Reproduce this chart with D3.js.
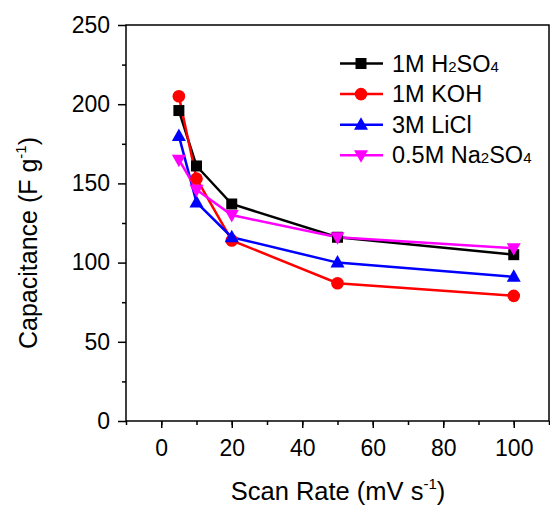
<!DOCTYPE html>
<html>
<head>
<meta charset="utf-8">
<script src="https://cdn.jsdelivr.net/npm/d3@7"></script>
<style>
    body { margin: 0; background: #fff; }
    svg text { font-family: "Liberation Sans", Arial, sans-serif; fill: #000; }
</style>
</head>
<body>
<div id="chart"></div>
<script>
// Scan rates (mV/s) and capacitance per electrolyte
const scanRates = [5, 10, 20, 50, 100];
const h2so4 = [196, 161, 137, 116, 105];
const koh = [205, 153, 114, 87, 79];
const licl = [180, 138, 116, 100, 91];
const na2so4 = [165, 146, 130, 116, 109];

const xTicks = [0, 20, 40, 60, 80, 100];
const yTicks = [0, 50, 100, 150, 200, 250];

const series = [
    { name: ['1M H', '2', 'SO', '4'], values: h2so4, color: '#000000', symbol: 'square' },
    { name: ['1M KOH'], values: koh, color: '#ff0000', symbol: 'circle' },
    { name: ['3M LiCl'], values: licl, color: '#0000ff', symbol: 'up' },
    { name: ['0.5M Na', '2', 'SO', '4'], values: na2so4, color: '#ff00ff', symbol: 'down' }
];

const width = 550, height = 509;
const margin = { left: 126, right: 1, top: 25, bottom: 88 };

const svg = d3.select('#chart')
    .append('svg')
    .attr('width', width)
    .attr('height', height);

const x = d3.scaleLinear().domain([-10, 110]).range([margin.left, width - margin.right]);
const y = d3.scaleLinear().domain([0, 250]).range([height - margin.bottom, margin.top]);

// frame
svg.append('rect')
    .attr('x', x(-10)).attr('y', y(250))
    .attr('width', x(110) - x(-10)).attr('height', y(0) - y(250))
    .style('fill', 'none').style('stroke', '#000').style('stroke-width', 1.5);

// x axis
const xAxis = svg.append('g').attr('transform', `translate(0,${y(0)})`);
xAxis.call(d3.axisBottom(x).tickValues(d3.range(-10, 111, 10)).tickSize(4).tickFormat(''));
xAxis.call(g => g.selectAll('.domain').remove());
const xMajor = svg.append('g').attr('transform', `translate(0,${y(0)})`)
    .call(d3.axisBottom(x).tickValues(xTicks).tickSize(7).tickPadding(12).tickFormat(d3.format('d')));
xMajor.select('.domain').remove();
xMajor.selectAll('text').style('font-size', '23px');

// y axis
const yAxis = svg.append('g').attr('transform', `translate(${x(-10)},0)`);
yAxis.call(d3.axisLeft(y).tickValues(d3.range(25, 250, 50)).tickSize(4).tickFormat(''));
yAxis.select('.domain').remove();
const yMajor = svg.append('g').attr('transform', `translate(${x(-10)},0)`)
    .call(d3.axisLeft(y).tickValues(yTicks).tickSize(8).tickPadding(8).tickFormat(d3.format('d')));
yMajor.select('.domain').remove();
svg.selectAll('.tick line').style('stroke-width', 1.5);
yMajor.selectAll('text').style('font-size', '23px');

// axis titles
const xTitle = svg.append('text')
    .attr('x', 338).attr('y', 500)
    .attr('text-anchor', 'middle')
    .style('font-size', '25.5px');
xTitle.append('tspan').text('Scan Rate (mV s');
xTitle.append('tspan').text('-1').style('font-size', '15px').attr('dy', -11);
xTitle.append('tspan').text(')').attr('dy', 11);

const yTitle = svg.append('text')
    .attr('transform', `translate(37,243) rotate(-90)`)
    .attr('text-anchor', 'middle')
    .style('font-size', '25px');
yTitle.append('tspan').text('Capacitance (F g');
yTitle.append('tspan').text('-1').style('font-size', '15px').attr('dy', -11);
yTitle.append('tspan').text(')').attr('dy', 11);

// marker shapes
function symbolPath(kind) {
    if (kind === 'square') return 'M-5.5,-5.5H5.5V5.5H-5.5Z';
    if (kind === 'circle') return d3.symbol(d3.symbolCircle, 125)();
    if (kind === 'up') return 'M0,-7.5L7,5H-7Z';
    return 'M0,7.5L7,-5H-7Z';
}

const line = d3.line()
    .x((d, i) => x(scanRates[i]))
    .y(d => y(d));

series.forEach(s => {
    svg.append('path')
        .attr('d', line(s.values))
        .style('fill', 'none')
        .style('stroke', s.color)
        .style('stroke-width', 2.5);
});

series.forEach(s => {
    svg.append('g')
        .selectAll('path')
        .data(s.values)
        .enter()
        .append('path')
        .attr('transform', (d, i) => `translate(${x(scanRates[i])},${y(d)})`)
        .attr('d', symbolPath(s.symbol))
        .style('fill', s.color);
});

// legend
const legend = svg.append('g');
series.forEach((s, i) => {
    const ly = 63.5 + i * 30.6;
    legend.append('line')
        .attr('x1', 340).attr('x2', 383)
        .attr('y1', ly).attr('y2', ly)
        .style('stroke', s.color).style('stroke-width', 2.5);
    legend.append('path')
        .attr('transform', `translate(361,${ly})`)
        .attr('d', symbolPath(s.symbol))
        .style('fill', s.color);
    const t = legend.append('text')
        .attr('x', 392).attr('y', ly + 8)
        .style('font-size', '23.5px');
    s.name.forEach((part, k) => {
        const sub = k % 2 === 1;
        t.append('tspan')
            .text(part)
            .style('font-size', sub ? '15px' : '23.5px');
    });
});
</script>
</body>
</html>
